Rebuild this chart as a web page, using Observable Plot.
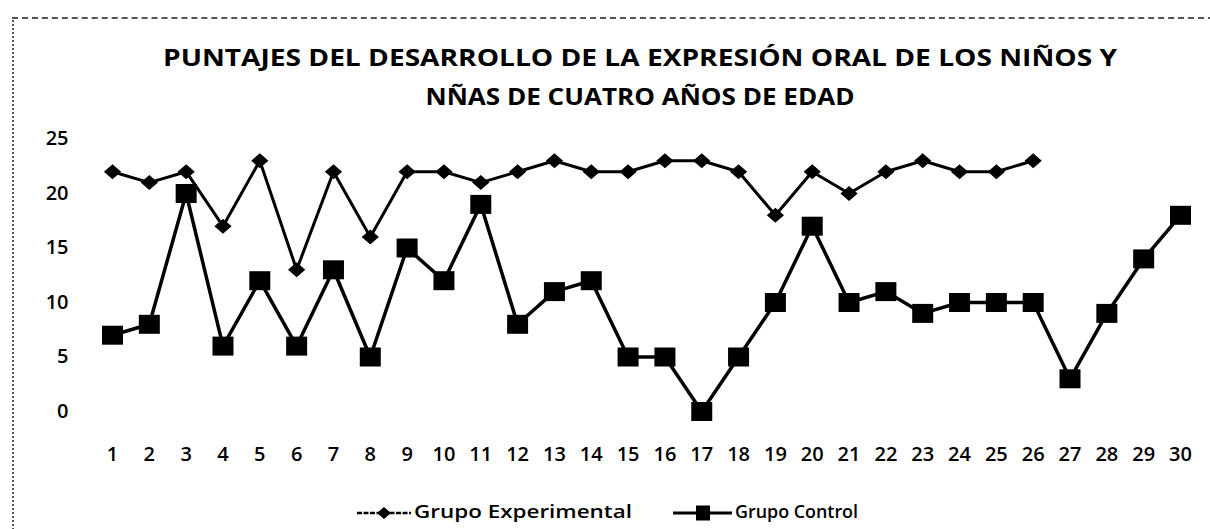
<!DOCTYPE html>
<html>
<head>
<meta charset="utf-8">
<script src="https://cdn.jsdelivr.net/npm/d3@7"></script>
<script src="https://cdn.jsdelivr.net/npm/@observablehq/plot@0.6"></script>
<style>
  body { margin: 0; background: #fff; }
  #wrap { position: relative; width: 1210px; height: 529px; overflow: hidden; background: #fff; font-family: "Open Sans", sans-serif; }
  #frame { position: absolute; left: 12px; top: 17px; width: 1200px; height: 530px; border-top: 2px dashed #555; border-left: 2px dotted #555; pointer-events: none; }
  #title, #legend, #chart { display: block; }
  #chart svg { display: block; }
</style>
</head>
<body>
<div id="wrap">
  <div id="frame"></div>
  <svg id="title" width="1210" height="118"></svg>
  <div id="chart"></div>
  <svg id="legend" width="1210" height="49"></svg>
</div>
<script>
// ---- data ----
const categories = [1,2,3,4,5,6,7,8,9,10,11,12,13,14,15,16,17,18,19,20,21,22,23,24,25,26,27,28,29,30];
const experimental = [22,21,22,17,23,13,22,16,22,22,21,22,23,22,22,23,23,22,18,22,20,22,23,22,22,23];
const control = [7,8,20,6,12,6,13,5,15,12,19,8,11,12,5,5,0,5,10,17,10,11,9,10,10,10,3,9,14,18];
const yTicks = [0,5,10,15,20,25];
const seriesNames = ["Grupo Experimental", "Grupo Control"];
const titleLines = ["PUNTAJES DEL DESARROLLO DE LA EXPRESIÓN ORAL DE LOS NIÑOS Y", "NÑAS DE CUATRO AÑOS DE EDAD"];

const expData = experimental.map((v, i) => ({x: categories[i], y: v}));
const ctrlData = control.map((v, i) => ({x: categories[i], y: v}));

// wide diamond & slightly wide square (scan is stretched horizontally)
const wideDiamond = {draw(ctx, size) { const r = Math.sqrt(size / Math.PI); ctx.moveTo(0, -r); ctx.lineTo(1.15 * r, 0); ctx.lineTo(0, r); ctx.lineTo(-1.15 * r, 0); ctx.closePath(); }};
const wideSquare = {draw(ctx, size) { const r = Math.sqrt(size / Math.PI); ctx.rect(-1.05 * r, -0.95 * r, 2.1 * r, 1.9 * r); }};

// ---- title ----
const ns = "http://www.w3.org/2000/svg";
const title = document.getElementById("title");
[[titleLines[0], 66, 954], [titleLines[1], 105, 429]].forEach(([t, y, len]) => {
  const el = document.createElementNS(ns, "text");
  el.setAttribute("x", 640);
  el.setAttribute("y", y);
  el.setAttribute("text-anchor", "middle");
  el.setAttribute("font-family", "Open Sans, sans-serif");
  el.setAttribute("font-weight", "700");
  el.setAttribute("font-size", "23");
  el.setAttribute("textLength", len);
  el.setAttribute("lengthAdjust", "spacingAndGlyphs");
  el.textContent = t;
  title.appendChild(el);
});

// ---- chart ----
const chart = Plot.plot({
  width: 1210,
  height: 362,
  marginLeft: 112,
  marginRight: 30,
  marginTop: 20.5,
  marginBottom: 69,
  style: {fontFamily: "Open Sans, sans-serif", fontSize: "20px", fontWeight: 600, color: "#000", background: "#fff", overflow: "visible"},
  x: {domain: [1, 30], ticks: categories, tickSize: 0, tickPadding: 35, tickFormat: d => String(d), label: null},
  y: {domain: [0, 25], ticks: yTicks, tickSize: 0, tickPadding: 44, label: null},
  marks: [
    Plot.line(ctrlData, {x: "x", y: "y", stroke: "#000", strokeWidth: 3.5}),
    Plot.line(expData, {x: "x", y: "y", stroke: "#000", strokeWidth: 3}),
    Plot.dot(ctrlData, {x: "x", y: "y", symbol: wideSquare, r: 10, fill: "#000", stroke: "none"}),
    Plot.dot(expData, {x: "x", y: "y", symbol: wideDiamond, r: 7.5, fill: "#000", stroke: "none"})
  ]
});
document.getElementById("chart").appendChild(chart);

// ---- legend ----
const legend = document.getElementById("legend");
function add(tag, attrs, text) {
  const el = document.createElementNS(ns, tag);
  for (const k in attrs) el.setAttribute(k, attrs[k]);
  if (text) el.textContent = text;
  legend.appendChild(el);
  return el;
}
const ly = 33;
add("line", {x1: 357, x2: 411, y1: ly, y2: ly, stroke: "#000", "stroke-width": 2.5, "stroke-dasharray": "5 1.5"});
add("path", {d: `M384,${ly-6}L391,${ly}L384,${ly+6}L377,${ly}Z`, fill: "#000"});
add("text", {x: 414, y: 38, "font-family": "Open Sans, sans-serif", "font-size": 18, "font-weight": 600, textLength: 218, lengthAdjust: "spacingAndGlyphs"}, seriesNames[0]);
add("line", {x1: 673, x2: 732, y1: ly, y2: ly, stroke: "#000", "stroke-width": 3});
add("rect", {x: 696, y: ly - 7.5, width: 14, height: 15, fill: "#000"});
add("text", {x: 735, y: 38, "font-family": "Open Sans, sans-serif", "font-size": 18, "font-weight": 600, textLength: 123, lengthAdjust: "spacingAndGlyphs"}, seriesNames[1]);
</script>
</body>
</html>
